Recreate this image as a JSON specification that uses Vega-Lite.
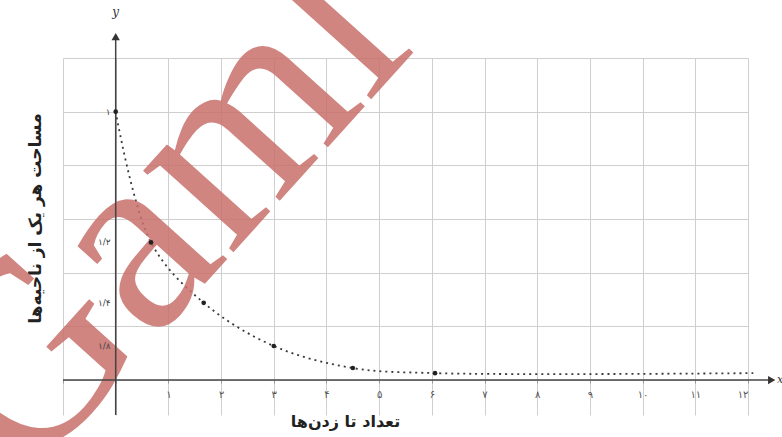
{
  "$schema": "https://vega.github.io/schema/vega-lite/v6.json",
  "width": 685,
  "height": 357,
  "autosize": "none",
  "padding": {"left": 63, "top": 58, "right": 34, "bottom": 22},
  "background": "#ffffff",
  "config": {
    "view": {"stroke": null},
    "font": "DejaVu Sans"
  },
  "datasets": {
    "curve": [
      {"x": 0, "y": 1.0},
      {"x": 0.67, "y": 0.513},
      {"x": 1.67, "y": 0.288},
      {"x": 3.0, "y": 0.127},
      {"x": 4.5, "y": 0.045},
      {"x": 6.06, "y": 0.026},
      {"x": 12.1, "y": 0.026}
    ],
    "dots": [
      {"x": 0, "y": 1.0},
      {"x": 0.67, "y": 0.513},
      {"x": 1.67, "y": 0.288},
      {"x": 3.0, "y": 0.127},
      {"x": 4.5, "y": 0.045},
      {"x": 6.06, "y": 0.026}
    ],
    "ylabels": [
      {"y": 1.0, "t": "۱"},
      {"y": 0.513, "t": "۱/۲"},
      {"y": 0.288, "t": "۱/۴"},
      {"y": 0.127, "t": "۱/۸"}
    ],
    "one": [{}]
  },
  "layer": [
    {
      "data": {"name": "curve"},
      "mark": {"type": "line", "interpolate": "catmull-rom", "strokeDash": [2, 4], "color": "#3a3a3a", "strokeWidth": 1.8},
      "encoding": {
        "x": {
          "field": "x", "type": "quantitative",
          "scale": {"domain": [-1, 12], "nice": false, "zero": false},
          "axis": {
            "values": [-1, 0, 1, 2, 3, 4, 5, 6, 7, 8, 9, 10, 11, 12],
            "grid": true, "gridColor": "#cfcfcf", "gridWidth": 1, "gridOpacity": 1,
            "domain": false, "ticks": true, "tickColor": "#999999", "tickSize": 3,
            "offset": -35,
            "labelExpr": "datum.value < 1 ? '' : datum.value == 10 ? '۱۰' : datum.value == 11 ? '۱۱' : datum.value == 12 ? '۱۲' : ['','۱','۲','۳','۴','۵','۶','۷','۸','۹'][datum.value]",
            "labelFont": "DejaVu Sans", "labelFontSize": 10, "labelColor": "#555555", "labelPadding": 6,
            "title": "تعداد تا زدن‌ها", "titleFont": "DejaVu Sans", "titleFontSize": 16, "titleFontWeight": "bold", "titleColor": "#222222",
            "titleX": 282, "titleY": 41, "titleAlign": "center", "titleBaseline": "middle"
          }
        },
        "y": {
          "field": "y", "type": "quantitative",
          "scale": {"domain": [-0.13, 1.2], "nice": false, "zero": false},
          "axis": {
            "values": [0, 0.2, 0.4, 0.6, 0.8, 1.0, 1.2],
            "grid": true, "gridColor": "#cfcfcf", "gridWidth": 1, "gridOpacity": 1,
            "domain": false, "ticks": false, "labels": false,
            "title": "مساحت هر یک از ناحیه‌ها", "titleFont": "DejaVu Sans", "titleFontSize": 17, "titleFontWeight": "bold", "titleColor": "#222222",
            "titleX": -28, "titleY": 160, "titleAlign": "center", "titleBaseline": "middle", "titleAngle": 270
          }
        }
      }
    },
    {
      "data": {"name": "one"},
      "mark": {"type": "text", "text": "Gaml", "font": "Liberation Serif", "fontSize": 265, "angle": -48, "align": "center", "baseline": "middle", "color": "#c8706b", "opacity": 0.85},
      "encoding": {
        "x": {"datum": 0.85, "type": "quantitative"},
        "y": {"datum": 0.62, "type": "quantitative"}
      }
    },
    {
      "data": {"name": "one"},
      "mark": {"type": "rule", "color": "#444444", "strokeWidth": 1.5},
      "encoding": {
        "x": {"datum": -1, "type": "quantitative"},
        "x2": {"datum": 12.45},
        "y": {"datum": 0, "type": "quantitative"}
      }
    },
    {
      "data": {"name": "one"},
      "mark": {"type": "rule", "color": "#444444", "strokeWidth": 1.5},
      "encoding": {
        "x": {"datum": 0, "type": "quantitative"},
        "y": {"datum": -0.13, "type": "quantitative"},
        "y2": {"datum": 1.27}
      }
    },
    {
      "data": {"name": "one"},
      "mark": {"type": "point", "shape": "triangle-right", "filled": true, "color": "#333333", "size": 70, "opacity": 1},
      "encoding": {
        "x": {"datum": 12.45, "type": "quantitative"},
        "y": {"datum": 0, "type": "quantitative"}
      }
    },
    {
      "data": {"name": "one"},
      "mark": {"type": "point", "shape": "triangle-up", "filled": true, "color": "#333333", "size": 70, "opacity": 1},
      "encoding": {
        "x": {"datum": 0, "type": "quantitative"},
        "y": {"datum": 1.28, "type": "quantitative"}
      }
    },
    {
      "data": {"name": "one"},
      "mark": {"type": "text", "text": "x", "font": "DejaVu Serif", "fontStyle": "italic", "fontSize": 11, "color": "#333333", "align": "left", "baseline": "middle"},
      "encoding": {
        "x": {"datum": 12.55, "type": "quantitative"},
        "y": {"datum": 0, "type": "quantitative"}
      }
    },
    {
      "data": {"name": "one"},
      "mark": {"type": "text", "text": "y", "font": "DejaVu Serif", "fontStyle": "italic", "fontSize": 12, "color": "#333333", "align": "center", "baseline": "middle"},
      "encoding": {
        "x": {"datum": 0, "type": "quantitative"},
        "y": {"datum": 1.37, "type": "quantitative"}
      }
    },
    {
      "data": {"name": "dots"},
      "mark": {"type": "point", "filled": true, "color": "#222222", "size": 22, "opacity": 1},
      "encoding": {
        "x": {"field": "x", "type": "quantitative"},
        "y": {"field": "y", "type": "quantitative"}
      }
    },
    {
      "data": {"name": "ylabels"},
      "mark": {"type": "text", "fontSize": 9, "color": "#444444", "align": "right", "baseline": "middle", "dx": -5},
      "encoding": {
        "x": {"datum": 0, "type": "quantitative"},
        "y": {"field": "y", "type": "quantitative"},
        "text": {"field": "t"}
      }
    }
  ]
}
